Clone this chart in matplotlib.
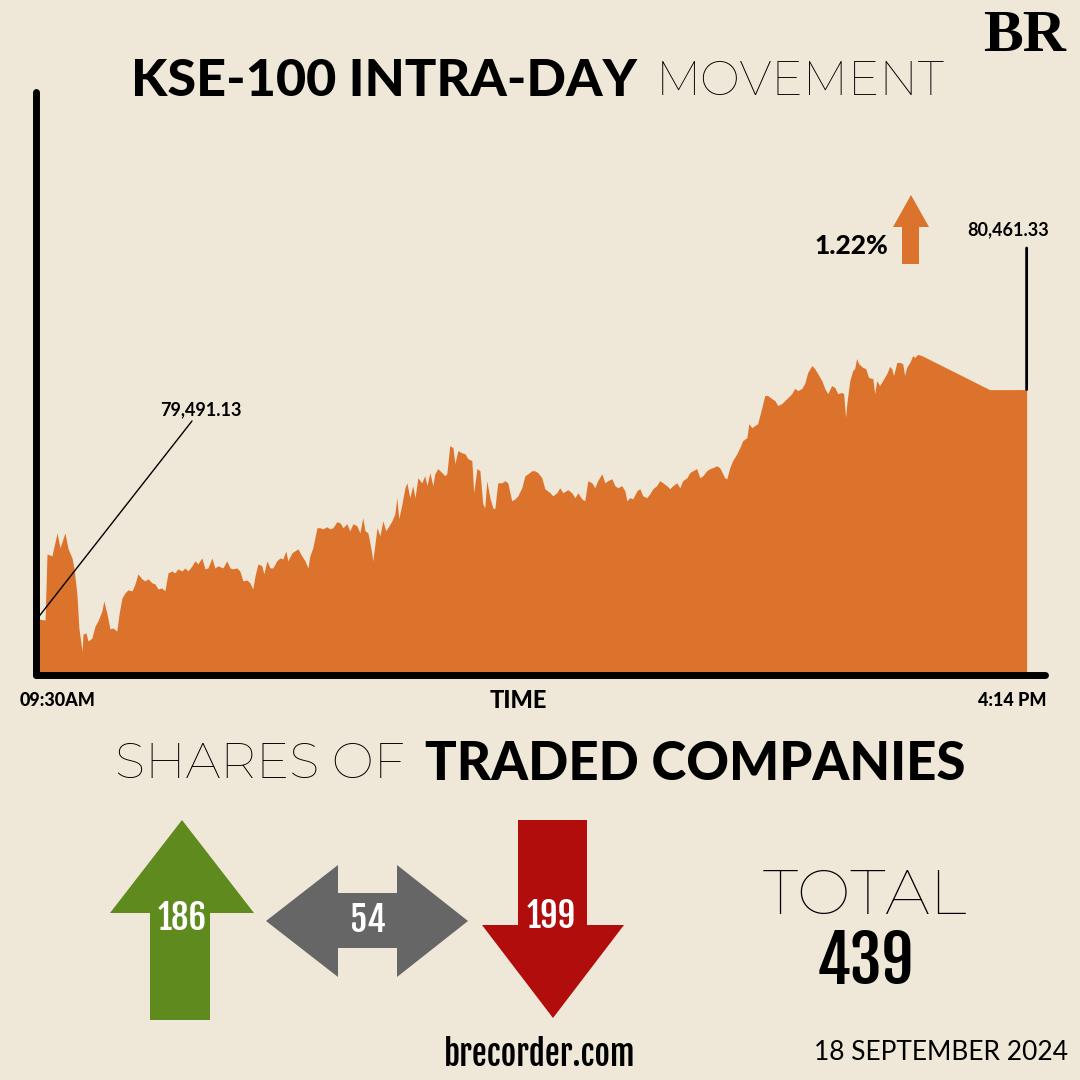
import matplotlib.pyplot as plt
from matplotlib.patches import Polygon, ConnectionPatch
from matplotlib import transforms

# KSE-100 intraday, minutes after 09:30 and index level
minutes = [0.0, 3.3, 4.1, 6.1, 8.2, 9.4, 11.4, 12.7, 14.3, 15.1, 16.3, 17.1, 18.4, 18.8, 20.0,
           20.8, 22.4, 23.7, 24.9, 26.5, 27.3, 28.6, 29.8, 31.0, 32.6, 33.5, 34.7, 35.9, 37.1,
           38.8, 40.0, 41.2, 42.8, 44.1, 45.3, 46.9, 48.2, 49.4, 51.0, 52.2, 53.5, 55.1, 56.3,
           57.5, 59.2, 60.4, 61.6, 63.3, 64.5, 65.7, 67.3, 68.6, 69.8, 71.4, 72.6, 73.9, 75.9,
           77.5, 78.8, 80.0, 81.6, 82.8, 84.1, 85.7, 86.9, 88.1, 89.0, 90.2, 91.8, 92.6, 93.9,
           95.1, 96.3, 97.9, 99.2, 100.4, 101.6, 102.4, 104.1, 105.3, 106.5, 108.1, 109.4, 110.6,
           111.4, 112.6, 114.3, 115.5, 116.7, 118.3, 119.6, 120.8, 122.4, 123.7, 124.9, 126.5,
           127.7, 129.0, 130.6, 131.8, 133.0, 133.9, 135.1, 136.3, 137.1, 138.8, 140.0, 141.2,
           142.4, 143.2, 144.9, 146.1, 146.9, 147.7, 149.0, 150.2, 151.0, 152.2, 153.4, 154.3,
           155.5, 157.1, 158.3, 159.2, 160.4, 161.6, 162.4, 163.6, 165.3, 166.5, 167.3, 168.5,
           169.8, 170.6, 171.8, 173.4, 174.7, 175.9, 177.5, 178.3, 179.6, 180.8, 182.0, 182.8,
           183.6, 184.9, 186.1, 186.9, 188.1, 189.8, 191.0, 192.2, 193.8, 195.1, 196.3, 197.9,
           199.2, 200.4, 202.0, 203.2, 204.5, 206.1, 207.3, 209.4, 210.6, 212.2, 213.4, 214.7,
           216.7, 218.3, 219.6, 220.8, 222.4, 223.6, 224.9, 226.5, 227.7, 228.9, 230.6, 231.8,
           233.0, 234.7, 235.9, 237.1, 238.7, 240.0, 240.8, 242.0, 243.2, 244.9, 246.1, 247.3,
           248.9, 250.2, 251.4, 253.0, 254.2, 255.5, 257.1, 258.3, 259.6, 261.2, 262.4, 263.6,
           265.3, 266.5, 267.7, 269.3, 270.6, 271.8, 273.4, 274.7, 275.9, 277.5, 278.7, 280.8,
           281.6, 282.8, 284.0, 285.7, 286.9, 288.1, 289.8, 290.6, 291.8, 293.0, 294.2, 295.9,
           297.1, 298.3, 300.0, 301.2, 302.4, 304.0, 305.3, 306.5, 308.1, 309.3, 310.6, 312.2,
           313.4, 314.6, 316.3, 317.5, 318.7, 320.4, 321.6, 322.8, 324.4, 325.7, 326.9, 328.5,
           329.3, 330.1, 330.6, 331.8, 333.0, 333.8, 334.6, 335.4, 337.1, 338.3, 339.5, 341.2,
           342.0, 342.8, 344.0, 345.2, 346.9, 348.1, 348.9, 349.7, 351.0, 352.2, 353.4, 354.2,
           355.0, 356.3, 357.5, 358.3, 359.5, 361.2, 388.9, 404.0]
kse = [79491, 79487, 79766, 79758, 79855, 79792, 79855, 79788, 79749, 79707, 79597, 79453, 79355,
       79427, 79432, 79398, 79410, 79461, 79483, 79525, 79567, 79512, 79449, 79453, 79440, 79512,
       79580, 79601, 79614, 79610, 79639, 79682, 79661, 79652, 79661, 79644, 79639, 79618, 79622,
       79610, 79686, 79694, 79686, 79703, 79694, 79707, 79694, 79716, 79737, 79724, 79749, 79703,
       79707, 79749, 79707, 79716, 79707, 79737, 79707, 79703, 79707, 79694, 79652, 79656, 79644,
       79618, 79673, 79724, 79716, 79682, 79737, 79707, 79707, 79737, 79749, 79745, 79779, 79737,
       79771, 79779, 79788, 79758, 79737, 79707, 79758, 79792, 79877, 79877, 79872, 79881, 79872,
       79877, 79902, 79898, 79877, 79894, 79864, 79894, 79885, 79855, 79919, 79864, 79855, 79792,
       79737, 79877, 79843, 79906, 79864, 79877, 79906, 79936, 80004, 79915, 79978, 80046, 80067,
       80004, 80055, 80004, 80088, 80067, 80097, 80055, 80110, 80055, 80105, 80127, 80110, 80097,
       80105, 80224, 80216, 80148, 80203, 80194, 80190, 80169, 80161, 80025, 80127, 80118, 79978,
       79961, 80076, 80004, 79961, 79957, 80067, 80067, 80076, 80067, 79991, 79999, 80012, 80046,
       80097, 80105, 80118, 80118, 80110, 80088, 80042, 80025, 80012, 80025, 80046, 80025, 80038,
       80025, 80004, 80025, 79999, 79991, 80076, 80067, 80046, 80076, 80105, 80067, 80076, 80084,
       80055, 80046, 80055, 80033, 79991, 80004, 79999, 80033, 80042, 80012, 80004, 80021, 80042,
       80055, 80076, 80067, 80055, 80042, 80055, 80067, 80046, 80076, 80088, 80110, 80118, 80127,
       80088, 80097, 80118, 80127, 80131, 80139, 80131, 80088, 80084, 80131, 80161, 80190, 80216,
       80245, 80258, 80317, 80300, 80309, 80317, 80385, 80436, 80436, 80423, 80415, 80394, 80402,
       80415, 80427, 80444, 80466, 80457, 80466, 80487, 80533, 80563, 80550, 80529, 80499, 80466,
       80444, 80478, 80470, 80444, 80449, 80444, 80343, 80402, 80499, 80542, 80550, 80593, 80571,
       80555, 80550, 80512, 80508, 80444, 80499, 80478, 80499, 80529, 80559, 80550, 80521, 80576,
       80576, 80571, 80521, 80555, 80576, 80605, 80597, 80610, 80605, 80461, 80461.33]

open_label = "79,491.13"
close_label = "80,461.33"
change_label = "1.22%"
time_labels = ["09:30AM", "4:14 PM"]
share_counts = [186, 54, 199]   # up, unchanged, down
total_shares = 439

BG = "#EFE8D8"
ORANGE = "#DC732C"
GREEN = "#5F8A1E"
GREY = "#666666"
RED = "#B20D0D"

BOLD = ["Lato", "DejaVu Sans"]
THIN = ["Montserrat", "Lato", "DejaVu Sans"]
COND = ["Fjalla One", "Oswald", "DejaVu Sans"]

fig = plt.figure(figsize=(10.8, 10.8), dpi=100, facecolor=BG)

# pixel overlay for the poster elements
ov = fig.add_axes([0, 0, 1, 1], zorder=0)
ov.set_xlim(0, 1080)
ov.set_ylim(1080, 0)
ov.axis("off")

# chart
ax = fig.add_axes([36/1080, 1 - 675/1080, (1045-36)/1080, (675-92)/1080], zorder=1)
ax.patch.set_alpha(0)
ymin, ymax = 79254, 81720
ax.fill_between(minutes, kse, ymin, color=ORANGE, lw=0)
ax.set_xlim(-0.4, 411.5)
ax.set_ylim(ymin, ymax)
ax.set_xticks([])
ax.set_yticks([])
for s in ["top", "right"]:
    ax.spines[s].set_visible(False)
for s in ["left", "bottom"]:
    ax.spines[s].set_linewidth(5)
    ax.spines[s].set_color("black")
    ax.spines[s].set_capstyle("round")

# open / close callouts
con = ConnectionPatch(xyA=(minutes[0], kse[0]), coordsA=ax.transData,
                      xyB=(192, 421), coordsB=ov.transData, color="black", lw=1, zorder=3)
fig.add_artist(con)
ov.text(201, 410, open_label, ha="center", va="center", fontsize=13,
        fontweight="bold", family=BOLD)

blend = transforms.blended_transform_factory(ax.transData, ov.transData)
con2 = ConnectionPatch(xyA=(minutes[-1], kse[-1]), coordsA=ax.transData,
                       xyB=(minutes[-1], 248), coordsB=blend, color="black", lw=2, zorder=3)
fig.add_artist(con2)
ov.text(1008, 230, close_label, ha="center", va="center", fontsize=13,
        fontweight="bold", family=BOLD)

ov.text(851, 246, change_label, ha="center", va="center", fontsize=19,
        fontweight="black", family=BOLD)
ov.add_patch(Polygon([(902, 264), (902, 227), (893, 227), (911, 195), (929, 227),
                      (919, 227), (919, 264)], closed=True, color=ORANGE, lw=0))

# title
ov.text(637, 82, "KSE-100 INTRA-DAY", ha="right", va="center", fontsize=37.5,
        fontweight="black", family=BOLD)
ov.text(656, 82, "MOVEMENT", ha="left", va="center", fontsize=34, family=THIN)
ov.text(1024, 37, "BR", ha="center", va="center", fontsize=43, fontweight="bold",
        family="Liberation Serif")

# axis labels
ov.text(20, 700, time_labels[0], ha="left", va="center", fontsize=13, fontweight="black", family=BOLD)
ov.text(518, 701, "TIME", ha="center", va="center", fontsize=17, fontweight="black", family=BOLD)
ov.text(1047, 700, time_labels[1], ha="right", va="center", fontsize=13, fontweight="black", family=BOLD)

# shares section
ov.text(405, 765, "SHARES OF", ha="right", va="center", fontsize=36, family=THIN)
ov.text(425, 765, "TRADED COMPANIES", ha="left", va="center", fontsize=38,
        fontweight="black", family=BOLD)

ov.add_patch(Polygon([(150, 1020), (150, 913), (110, 913), (182, 820), (254, 913),
                      (210, 913), (210, 1020)], closed=True, color=GREEN, lw=0))
ov.add_patch(Polygon([(266, 921), (338, 865), (338, 893), (397, 893), (397, 865), (468, 921),
                      (397, 977), (397, 948), (338, 948), (338, 977)], closed=True, color=GREY, lw=0))
ov.add_patch(Polygon([(518, 820), (587, 820), (587, 925), (624, 925), (553, 1018), (482, 925),
                      (518, 925)], closed=True, color=RED, lw=0))

num_kw = dict(ha="center", va="center", color="white", fontsize=25, fontweight="bold",
              family=COND)
ov.text(182, 918, str(share_counts[0]), **num_kw)
ov.text(368, 921, str(share_counts[1]), **num_kw)
ov.text(551, 917, str(share_counts[2]), **num_kw)

ov.text(865, 897, "TOTAL", ha="center", va="center", fontsize=46, family=THIN)
ov.text(865, 963, str(total_shares), ha="center", va="center", fontsize=46, fontweight="bold",
        family=COND)

ov.text(540, 1055, "brecorder.com", ha="center", va="center", fontsize=24, fontweight="bold",
        family=COND)
ov.text(1068, 1053, "18 SEPTEMBER 2024", ha="right", va="center", fontsize=19,
        family=BOLD)

fig.savefig("out.png", dpi=100, facecolor=BG)
